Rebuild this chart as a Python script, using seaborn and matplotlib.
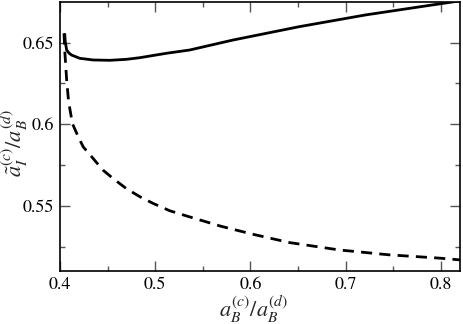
import matplotlib
matplotlib.use("Agg")
import matplotlib.pyplot as plt
import seaborn as sns
import pandas as pd
from matplotlib.ticker import MultipleLocator, FixedLocator

# Data
solid_x = [0.4050, 0.4055, 0.4070, 0.4095, 0.4122, 0.4209, 0.4349, 0.4524, 0.4698, 0.4838,
           0.5117, 0.5361, 0.5815, 0.6513, 0.7210, 0.7910, 0.8200]
solid_y = [0.6550, 0.6505, 0.6454, 0.6435, 0.6423, 0.6403, 0.6393, 0.6391, 0.6397, 0.6407,
           0.6434, 0.6454, 0.6515, 0.6597, 0.6669, 0.6730, 0.6755]

dash_x = [0.4042, 0.4050, 0.4070, 0.4090, 0.4130, 0.4192, 0.4244, 0.4349, 0.4453, 0.4558,
          0.4698, 0.4838, 0.4977, 0.5152, 0.5340, 0.5690, 0.6010, 0.6410, 0.6930, 0.7455,
          0.7980, 0.8200]
dash_y = [0.6556, 0.6450, 0.6270, 0.6140, 0.6004, 0.5922, 0.5861, 0.5789, 0.5718, 0.5667,
          0.5605, 0.5556, 0.5515, 0.5470, 0.5436, 0.5375, 0.5328, 0.5275, 0.5230, 0.5200,
          0.5180, 0.5169]

x_ticks = [0.4, 0.5, 0.6, 0.7, 0.8]
x_ticklabels = ["0.4", "0.5", "0.6", "0.7", "0.8"]
y_ticks = [0.55, 0.6, 0.65]
y_ticklabels = ["0.55", "0.6", "0.65"]

sns.set_style("ticks")
plt.rcParams["font.family"] = ["STIXGeneral", "Liberation Serif", "DejaVu Serif"]
plt.rcParams["mathtext.fontset"] = "stix"

fig = plt.figure(figsize=(4.63, 3.24), dpi=100)
ax = fig.add_axes([60 / 463, 53 / 324, 400 / 463, 269 / 324])

df_s = pd.DataFrame({"x": solid_x, "y": solid_y})
df_d = pd.DataFrame({"x": dash_x, "y": dash_y})
sns.lineplot(data=df_s, x="x", y="y", ax=ax, color="black", lw=2.0,
             sort=False, estimator=None)
sns.lineplot(data=df_d, x="x", y="y", ax=ax, color="black", lw=2.0,
             sort=False, estimator=None)
ax.lines[-1].set_dashes((4, 2.6))

ax.set_xlim(0.4, 0.82)
ax.set_ylim(0.5101, 0.6748)
ax.set_xticks(x_ticks)
ax.set_xticklabels(x_ticklabels)
ax.set_yticks(y_ticks)
ax.set_yticklabels(y_ticklabels)
ax.xaxis.set_minor_locator(MultipleLocator(0.05))
ax.yaxis.set_minor_locator(FixedLocator([0.525, 0.575, 0.625]))

ax.tick_params(which="both", direction="in", top=True, right=True,
               color="#555555", width=1.0, labelsize=13, labelcolor="black")
ax.tick_params(which="major", length=7, pad=4)
ax.tick_params(which="minor", length=3.8)
for s in ax.spines.values():
    s.set_color("black")
    s.set_linewidth(1.2)

ax.set_xlabel(r"$a_B^{(c)}/a_B^{(d)}$", fontsize=16)
ax.set_ylabel(r"$\tilde{a}_I^{(c)}/a_B^{(d)}$", fontsize=16)
ax.xaxis.set_label_coords(0.483, -0.085)
ax.yaxis.set_label_coords(-0.075, 0.474)

fig.savefig("out.png", dpi=100)
